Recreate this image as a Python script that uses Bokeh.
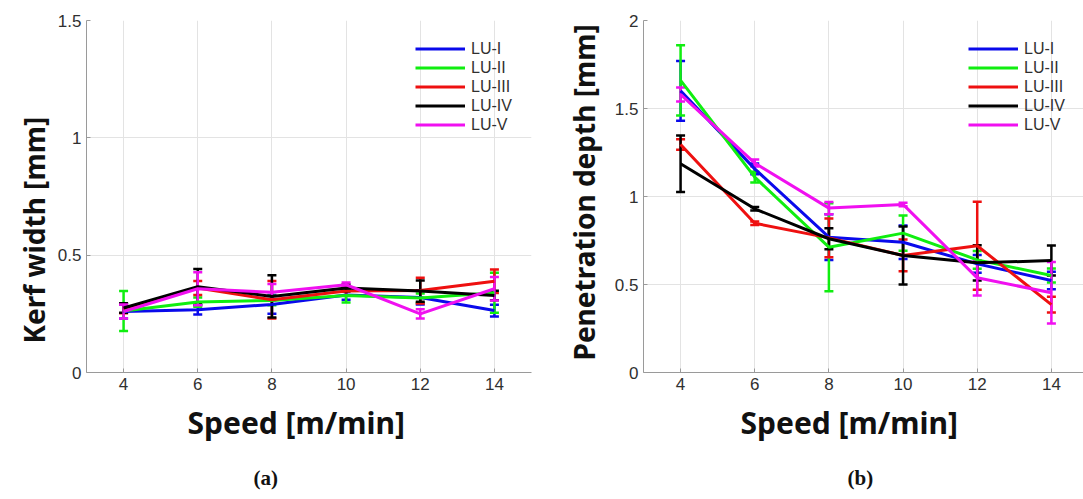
from bokeh.plotting import figure
from bokeh.layouts import row
from bokeh.models import (ColumnDataSource, Whisker, TeeHead, Legend,
                          LegendItem, FixedTicker, Title)
from bokeh.embed import file_html
from bokeh.resources import INLINE

# Cutting speed [m/min]
speed = [4, 6, 8, 10, 12, 14]
series_names = ["LU-I", "LU-II", "LU-III", "LU-IV", "LU-V"]
colors = ["#0a0aeb", "#10ee10", "#ee1010", "#000000", "#f010f0"]

# Kerf width [mm] (mean and half error bar)
kerf_lu1 = [0.26, 0.267, 0.29, 0.33, 0.32, 0.264]
kerf_lu2 = [0.262, 0.30, 0.307, 0.328, 0.317, 0.34]
kerf_lu3 = [0.272, 0.36, 0.31, 0.347, 0.349, 0.389]
kerf_lu4 = [0.275, 0.366, 0.324, 0.36, 0.347, 0.328]
kerf_lu5 = [0.26, 0.357, 0.342, 0.374, 0.25, 0.357]
kerf_err1 = [0.03, 0.02, 0.04, 0.02, 0.03, 0.025]
kerf_err2 = [0.085, 0.02, 0.02, 0.03, 0.02, 0.085]
kerf_err3 = [0.02, 0.03, 0.08, 0.02, 0.055, 0.05]
kerf_err4 = [0.02, 0.075, 0.09, 0.015, 0.045, 0.02]
kerf_err5 = [0.03, 0.07, 0.035, 0.01, 0.02, 0.05]

# Penetration depth [mm] (mean and half error bar)
depth_lu1 = [1.60, 1.157, 0.769, 0.74, 0.617, 0.523]
depth_lu2 = [1.66, 1.11, 0.712, 0.792, 0.64, 0.551]
depth_lu3 = [1.295, 0.848, 0.765, 0.665, 0.72, 0.386]
depth_lu4 = [1.186, 0.93, 0.76, 0.665, 0.623, 0.636]
depth_lu5 = [1.58, 1.19, 0.934, 0.955, 0.538, 0.453]
depth_err1 = [0.17, 0.03, 0.13, 0.095, 0.05, 0.05]
depth_err2 = [0.2, 0.03, 0.25, 0.1, 0.05, 0.04]
depth_err3 = [0.03, 0.01, 0.11, 0.09, 0.25, 0.045]
depth_err4 = [0.16, 0.01, 0.06, 0.165, 0.1, 0.085]
depth_err5 = [0.04, 0.02, 0.035, 0.01, 0.1, 0.175]

kerf_means = [kerf_lu1, kerf_lu2, kerf_lu3, kerf_lu4, kerf_lu5]
kerf_errs = [kerf_err1, kerf_err2, kerf_err3, kerf_err4, kerf_err5]
depth_means = [depth_lu1, depth_lu2, depth_lu3, depth_lu4, depth_lu5]
depth_errs = [depth_err1, depth_err2, depth_err3, depth_err4, depth_err5]

TICK_FONT = "Liberation Sans"
LABEL_FONT = "Noto Sans"


def make_panel(means, errs, y_max, y_ticks, x_end, border_left, frame_w,
               border_right, legend_x):
    p = figure(frame_width=frame_w, frame_height=352,
               min_border_left=border_left, min_border_right=border_right,
               min_border_top=20, min_border_bottom=127,
               x_range=(3, x_end), y_range=(0, y_max),
               output_backend="svg", toolbar_location=None,
               background_fill_color="white", border_fill_color="white")
    p.outline_line_color = None
    p.xaxis.ticker = FixedTicker(ticks=speed)
    p.yaxis.ticker = FixedTicker(ticks=y_ticks)
    for ax in (p.xaxis[0], p.yaxis[0]):
        ax.axis_line_color = "#9a9a9a"
        ax.major_tick_line_color = "#9a9a9a"
        ax.major_tick_in = 4
        ax.major_tick_out = 0
        ax.minor_tick_line_color = None
        ax.major_label_text_font = TICK_FONT
        ax.major_label_text_font_size = "17px"
        ax.major_label_text_color = "#303030"
    p.xaxis.major_label_standoff = 5
    p.yaxis.major_label_standoff = 5
    p.yaxis.formatter.use_scientific = False
    p.grid.grid_line_color = "#e3e3e3"
    p.grid.grid_line_width = 1

    items = []
    for name, col, m, e in zip(series_names, colors, means, errs):
        src = ColumnDataSource(dict(
            x=speed, y=m,
            lo=[a - b for a, b in zip(m, e)],
            hi=[a + b for a, b in zip(m, e)]))
        r = p.line("x", "y", source=src, line_color=col, line_width=3)
        w = Whisker(base="x", upper="hi", lower="lo", source=src,
                    line_color=col, line_width=2.5,
                    upper_head=TeeHead(size=9, line_color=col, line_width=2.5),
                    lower_head=TeeHead(size=9, line_color=col, line_width=2.5))
        p.add_layout(w)
        items.append(LegendItem(label=name, renderers=[r]))

    leg = Legend(items=items, location=(legend_x, 238),
                 border_line_color=None, background_fill_alpha=0,
                 padding=0, margin=0, spacing=0,
                 glyph_width=50, glyph_height=19, label_height=19,
                 label_standoff=6,
                 label_text_font=TICK_FONT, label_text_font_size="16px",
                 label_text_color="#303030")
    p.add_layout(leg)
    return p


def add_title(p, text, side, offset, size="30px", font=LABEL_FONT,
              standoff=0):
    p.add_layout(Title(text=text, align="left", offset=offset,
                       standoff=standoff, text_font=font,
                       text_font_size=size, text_font_style="bold",
                       text_color="#111111"), side)


left = make_panel(kerf_means, kerf_errs, 1.5, [0, 0.5, 1, 1.5], 15.0,
                  86, 445, 17, 329)
right = make_panel(depth_means, depth_errs, 2.0, [0, 0.5, 1, 1.5, 2],
                   3 + 440 / 37.08, 95, 440, 0, 325)

add_title(left, "Kerf width [mm]", "left", 29, size="28px", standoff=4)
add_title(left, "Speed [m/min]", "below", 101, standoff=14)
add_title(left, "(a)", "below", 167, size="21px", font="Liberation Serif",
          standoff=28)

add_title(right, "Penetration depth [mm]", "left", 12, size="28px",
          standoff=18)
add_title(right, "Speed [m/min]", "below", 97, standoff=14)
add_title(right, "(b)", "below", 204, size="21px", font="Liberation Serif",
          standoff=28)

layout = row(left, right)
open("out.html", "w").write(file_html(layout, INLINE))
